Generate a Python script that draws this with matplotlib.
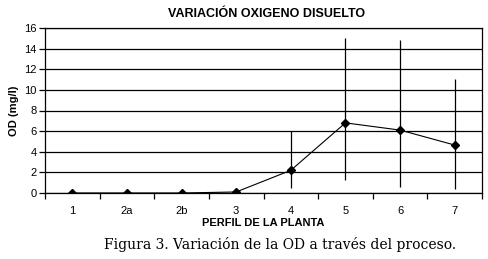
import matplotlib
matplotlib.use("Agg")
import matplotlib.pyplot as plt
import numpy as np

categories = ["1", "2a", "2b", "3", "4", "5", "6", "7"]
od_values = [0.0, 0.0, 0.0, 0.1, 2.2, 6.8, 6.1, 4.65]
od_min = [0.0, 0.0, 0.0, 0.0, 0.5, 1.3, 0.6, 0.4]
od_max = [0.0, 0.0, 0.0, 0.2, 6.0, 15.0, 14.8, 11.1]
yticks = [0, 2, 4, 6, 8, 10, 12, 14, 16]

plt.rcParams['font.family'] = ['Liberation Sans', 'DejaVu Sans']

fig = plt.figure(figsize=(4.88, 2.59), dpi=100)
ax = fig.add_axes([45/488, 1-193/259, 437/488, 165/259])

x = np.arange(len(categories))
vals = np.array(od_values)
lo = vals - np.array(od_min)
hi = np.array(od_max) - vals
ax.errorbar(x, vals, yerr=[lo, hi], fmt='none', ecolor='black', elinewidth=0.9, capsize=0, zorder=3)
ax.plot(x, vals, color='black', linewidth=0.8, marker='D', markersize=3.6, zorder=4)

ax.set_xlim(-0.5, len(categories) - 0.5)
ax.set_ylim(0, 16)
ax.set_yticks(yticks)
ax.set_yticklabels([str(v) for v in yticks], fontsize=8)
ax.yaxis.grid(True, color='black', linewidth=0.9)
ax.set_axisbelow(True)

ax.set_xticks(x)
ax.set_xticklabels(categories, fontsize=8)
ax.tick_params(axis='x', which='major', length=0, pad=9)
ax.set_xticks(np.arange(-0.5, len(categories)), minor=True)
ax.tick_params(axis='x', which='minor', length=4, direction='out', width=0.9)
ax.tick_params(axis='y', length=4, direction='out', width=0.9, pad=2)

for s in ax.spines.values():
    s.set_color('black')
    s.set_linewidth(0.9)

ax.set_xlabel("PERFIL DE LA PLANTA", fontsize=8, fontweight='bold', labelpad=1.5)
ax.set_ylabel("OD (mg/l)", fontsize=8, fontweight='bold', labelpad=4)
fig.text(267/488, 1-14/259, "VARIACIÓN OXIGENO DISUELTO", fontsize=9, fontweight='bold',
         ha='center', va='center')
fig.text(280/488, 1-244/259, "Figura 3. Variación de la OD a través del proceso.",
         fontsize=10, family=['DejaVu Serif'], ha='center', va='center')

fig.savefig("out.png", dpi=100)
